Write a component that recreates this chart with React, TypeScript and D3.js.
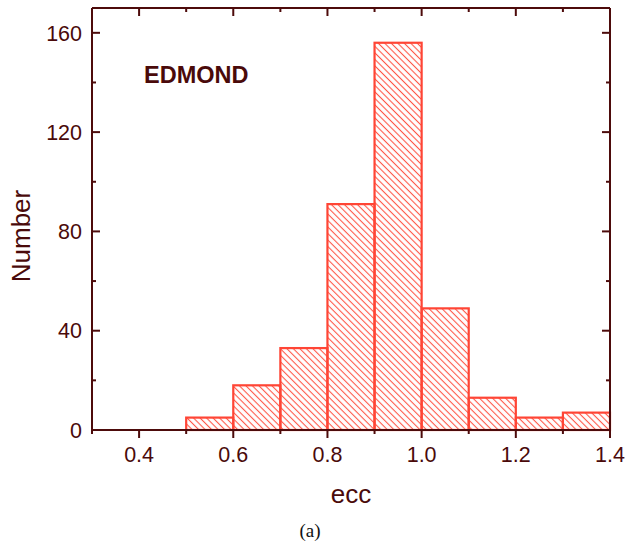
import React from "react";
import * as d3 from "d3";

const binStarts = [0.5, 0.6, 0.7, 0.8, 0.9, 1.0, 1.1, 1.2, 1.3];
const counts = [5, 18, 33, 91, 156, 49, 13, 5, 7];
const binWidth = 0.1;
const xTicks = [0.4, 0.6, 0.8, 1.0, 1.2, 1.4];
const xMinor = [0.3, 0.5, 0.7, 0.9, 1.1, 1.3];
const yTicks = [0, 40, 80, 120, 160];
const yMinor = [20, 60, 100, 140];

const W = 627, H = 548;
const L = 92, R = 610, T = 8, B = 430;
const AX = "#4d0b0b";
const TXT = "#4a0a0a";
const BAR = "#ff4535";
const HATCH = "#ff5545";

export default function App() {
  const x = d3.scaleLinear().domain([0.3, 1.4]).range([L, R]);
  const y = d3.scaleLinear().domain([0, 170]).range([B, T]);
  const font = "'Liberation Sans', Arial, Helvetica, sans-serif";
  return (
    <svg width={W} height={H} style={{ position: "absolute", left: 0, top: 0 }}>
      <defs>
        <pattern id="hatch" patternUnits="userSpaceOnUse" width={4.6} height={4.6} patternTransform="rotate(45)">
          <line x1={-1} y1={2.3} x2={6} y2={2.3} stroke={HATCH} strokeWidth={1.1} />
        </pattern>
      </defs>
      <rect x={0} y={0} width={W} height={H} fill="#fff" />
      {binStarts.map((s, i) => (
        <rect key={i} x={x(s)} y={y(counts[i])} width={x(s + binWidth) - x(s)} height={y(0) - y(counts[i])}
          fill="url(#hatch)" stroke={BAR} strokeWidth={2.2} />
      ))}
      {/* frame */}
      <line x1={L} y1={T} x2={R} y2={T} stroke={AX} strokeWidth={2} />
      <line x1={R} y1={T} x2={R} y2={B} stroke={AX} strokeWidth={2} />
      <line x1={L} y1={T} x2={L} y2={B + 3} stroke={AX} strokeWidth={2} />
      <line x1={L} y1={B} x2={R} y2={B} stroke={AX} strokeWidth={2} />
      {/* x ticks */}
      {xTicks.map((t) => (
        <g key={"xt" + t}>
          <line x1={x(t)} y1={B} x2={x(t)} y2={B + 8} stroke={AX} strokeWidth={2} />
          <line x1={x(t)} y1={T} x2={x(t)} y2={T + 8} stroke={AX} strokeWidth={2} />
          <text x={x(t)} y={B + 32} textAnchor="middle" fontFamily={font} fontSize={21.5} fill={TXT}>{t.toFixed(1)}</text>
        </g>
      ))}
      {xMinor.map((t) => (
        <g key={"xm" + t}>
          <line x1={x(t)} y1={B} x2={x(t)} y2={B + 4} stroke={AX} strokeWidth={2} />
          <line x1={x(t)} y1={T} x2={x(t)} y2={T + 4} stroke={AX} strokeWidth={2} />
        </g>
      ))}
      {yTicks.map((t) => (
        <g key={"yt" + t}>
          <line x1={L} y1={y(t)} x2={L + 8} y2={y(t)} stroke={AX} strokeWidth={2} />
          <line x1={R} y1={y(t)} x2={R - 8} y2={y(t)} stroke={AX} strokeWidth={2} />
          <text x={L - 10} y={y(t)} dy="0.36em" textAnchor="end" fontFamily={font} fontSize={21.5} fill={TXT}>{t}</text>
        </g>
      ))}
      {yMinor.map((t) => (
        <g key={"ym" + t}>
          <line x1={L} y1={y(t)} x2={L + 4} y2={y(t)} stroke={AX} strokeWidth={2} />
          <line x1={R} y1={y(t)} x2={R - 4} y2={y(t)} stroke={AX} strokeWidth={2} />
        </g>
      ))}
      <text x={144} y={83} fontFamily={font} fontSize={23.5} fontWeight="bold" fill={TXT}>EDMOND</text>
      <text transform={`translate(30,236) rotate(-90)`} textAnchor="middle" fontFamily={font} fontSize={26} fill={TXT}>Number</text>
      <text x={351} y={503} textAnchor="middle" fontFamily={font} fontSize={26} fill={TXT}>ecc</text>
      <text x={310} y={537} textAnchor="middle" fontFamily="'Liberation Serif', 'DejaVu Serif', serif" fontSize={19} fill="#111">(a)</text>
    </svg>
  );
}
